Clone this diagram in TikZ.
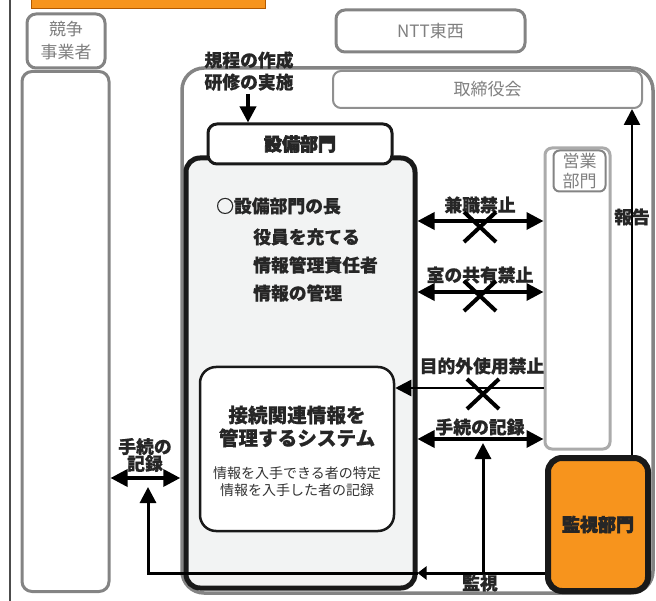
\documentclass[tikz,border=0pt]{standalone}
\usepackage{fontspec}
\setmainfont{Noto Sans CJK JP}[BoldFeatures={FakeBold=0.6}]
\newfontfamily\heavyfont{Noto Sans CJK JP}[BoldFeatures={FakeBold=3.5}]
\usetikzlibrary{arrows.meta,shapes.misc}

\definecolor{kanshiorange}{HTML}{F7941D}
\definecolor{framegray}{HTML}{848484}
\definecolor{lightframe}{HTML}{ABABAB}
\definecolor{textgray}{HTML}{7F7F7F}
\definecolor{bodyfill}{HTML}{F2F3F3}

\tikzset{
    graybox/.style={draw=framegray, line width=3pt, rounded corners=9pt, fill=white, inner sep=0pt},
    blackbox/.style={draw=black!90, rounded corners=12pt, inner sep=0pt},
    graytext/.style={text=textgray, align=center, font=\fontsize{17}{23}\selectfont},
    boldtext/.style={inner sep=0pt, text=black!85, font=\fontsize{17.8}{22}\selectfont\bfseries},
    heavytext/.style={text=black!85, font=\fontsize{18}{21}\selectfont\heavyfont\bfseries},
    dblarrow/.style={line width=3.5pt, {Triangle[length=17pt,width=17pt]}-{Triangle[length=17pt,width=17pt]}},
    onearrow/.style={line width=3pt, -{Triangle[length=16pt,width=16pt]}},
    batsu/.style={cross out, draw, line width=4pt, minimum width=28pt, minimum height=26pt, inner sep=0pt}
}

\begin{document}
\begin{tikzpicture}[x=1pt,y=-1pt]
    \useasboundingbox (0,0) rectangle (656,601);

        % left edge and orange tab
        \draw[line width=1.2pt, black!70] (10,0) -- (10,601);
        \filldraw[fill=kanshiorange, draw=orange!70!black, line width=0.8pt] (31,-5) rectangle (265,8);

        % competitors
        \node[graybox, minimum width=78pt, minimum height=54pt, graytext] (rival) at (66,41) {競争\\事業者};
        \node[graybox, rounded corners=10pt, minimum width=87pt, minimum height=520pt] (rivalbody) at (65.5,331.5) {};

        % NTT
        \node[graybox, minimum width=189pt, minimum height=42pt, graytext] (ntt) at (430.5,31) {NTT東西};
        \node[graybox, rounded corners=22pt, line width=3.5pt, minimum width=471pt, minimum height=525pt] (ntthonsha) at (417.5,330.5) {};
        \node[graybox, draw=framegray!90, line width=2pt, rounded corners=8pt, minimum width=309pt, minimum height=37pt, graytext] (board) at (487.5,89.5) {取締役会};

        % facility department
        \node[blackbox, fill=bodyfill, line width=5pt, rounded corners=14pt, minimum width=229pt, minimum height=430pt] (facbody) at (300.5,373) {};
        \node[blackbox, fill=white, line width=3pt, rounded corners=9pt, minimum width=184pt, minimum height=40pt, heavytext] (fachead) at (300,144) {設備部門};
        \node[boldtext, anchor=west] (chou) at (216,206) {○設備部門の長};
        \node[boldtext, anchor=west] (yakuin) at (253,237) {役員を充てる};
        \node[boldtext, anchor=west] (sekinin) at (253,265) {情報管理責任者};
        \node[boldtext, anchor=west] (kanri) at (253,293) {情報の管理};

        % system
        \node[blackbox, fill=white, line width=2.5pt, rounded corners=16pt, minimum width=194pt, minimum height=164pt] (system) at (297,449) {};
        \node[boldtext, align=center, font=\fontsize{19.6}{23}\selectfont\bfseries] (systitle) at (297,426.5) {接続関連情報を\\管理するシステム};
        \node[inner sep=0pt, align=center, text=black!80, font=\fontsize{14}{17.5}\selectfont] (sysnote) at (297,481.5) {情報を入手できる者の特定\\情報を入手した者の記録};

        % sales department
        \node[draw=lightframe, line width=3pt, rounded corners=7pt, fill=white, minimum width=65pt, minimum height=301pt] (sales) at (577.5,298.5) {};
        \node[draw=framegray, line width=2pt, rounded corners=6pt, inner sep=0pt, minimum width=52pt, minimum height=41pt, graytext, font=\fontsize{17}{20}\selectfont] (saleslabel) at (579.5,171) {営業\\部門};

        % monitoring department
        \node[blackbox, fill=kanshiorange, line width=6pt, rounded corners=14pt, minimum width=100pt, minimum height=133pt, heavytext] (monitor) at (598,524.5) {監視部門};

        % levels
        \coordinate (kenshoku) at (480,221);
        \coordinate (kyouyu) at (480,292);
        \coordinate (mokuteki) at (480,388);
        \coordinate (tetsuzuki) at (483,439);
        \coordinate (kanshi) at (483,573);
        \coordinate (hidari) at (148,478);
        \coordinate (houkoku) at (632,217);
        \coordinate (kitei) at (248,0);

        % prohibitions
        \draw[dblarrow] (kenshoku -| facbody.east) -- (kenshoku -| sales.west);
        \node[boldtext] (kenshokulabel) at (480,205) {兼職禁止};
        \node[batsu] (batsu1) at (480,227) {};
        \draw[dblarrow] (kyouyu -| facbody.east) -- (kyouyu -| sales.west);
        \node[boldtext] (kyouyulabel) at (480,275) {室の共有禁止};
        \node[batsu] (batsu2) at (480,296) {};
        \draw[onearrow, line width=2.5pt] (mokuteki -| sales.west) -- (mokuteki -| system.east);
        \node[boldtext] (mokutekilabel) at (482,366) {目的外使用禁止};
        \node[batsu] (batsu3) at (483,394) {};

        % records and monitoring
        \draw[dblarrow] (tetsuzuki -| facbody.east) -- (tetsuzuki -| sales.west);
        \node[boldtext] (tetsuzukilabel) at (480,427) {手続の記録};
        \draw[onearrow, shorten >=4pt] (kanshi) -- (tetsuzuki);
        \draw[line width=3pt, -{Triangle[length=9pt,width=13pt]}] (monitor.west |- kanshi) -- (kanshi -| facbody.east);
        \draw[onearrow, shorten >=9pt] (kanshi -| facbody.east) -- (kanshi -| hidari) -- (hidari);
        \node[boldtext] (kanshilabel) at (480,583) {監視};
        \draw[dblarrow] (hidari -| rivalbody.east) -- (hidari -| ntthonsha.west);
        \node[boldtext, align=center, font=\fontsize{17.8}{17}\selectfont\bfseries] (hidarilabel) at (145,455) {手続の\\記録};

        % report and rules
        \draw[onearrow, line width=2.5pt] (monitor.north -| houkoku) -- (board.south -| houkoku);
        \node[boldtext] (houkokulabel) at (houkoku) {報告};
        \node[boldtext, align=center] (kiteilabel) at (249,71) {規程の作成\\研修の実施};
        \draw[onearrow, line width=3.5pt, shorten <=3pt] (kiteilabel.south -| kitei) -- (fachead.north -| kitei);

\end{tikzpicture}
\end{document}
